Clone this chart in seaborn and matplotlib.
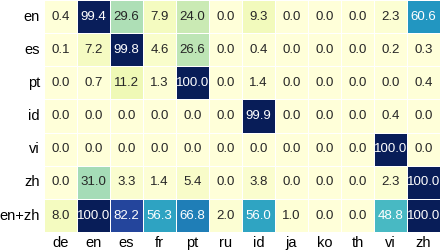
import matplotlib
matplotlib.use("Agg")
import matplotlib.pyplot as plt
import seaborn as sns
import pandas as pd
import numpy as np

rows = ["en", "es", "pt", "id", "vi", "zh", "en+zh"]
cols = ["de", "en", "es", "fr", "pt", "ru", "id", "ja", "ko", "th", "vi", "zh"]

en_row = [0.4, 99.4, 29.6, 7.9, 24.0, 0.0, 9.3, 0.0, 0.0, 0.0, 2.3, 60.6]
es_row = [0.1, 7.2, 99.8, 4.6, 26.6, 0.0, 0.4, 0.0, 0.0, 0.0, 0.2, 0.3]
pt_row = [0.0, 0.7, 11.2, 1.3, 100.0, 0.0, 1.4, 0.0, 0.0, 0.0, 0.0, 0.4]
id_row = [0.0, 0.0, 0.0, 0.0, 0.0, 0.0, 99.9, 0.0, 0.0, 0.0, 0.4, 0.0]
vi_row = [0.0, 0.0, 0.0, 0.0, 0.0, 0.0, 0.0, 0.0, 0.0, 0.0, 100.0, 0.0]
zh_row = [0.0, 31.0, 3.3, 1.4, 5.4, 0.0, 3.8, 0.0, 0.0, 0.0, 2.3, 100.0]
enzh_row = [8.0, 100.0, 82.2, 56.3, 66.8, 2.0, 56.0, 1.0, 0.0, 0.0, 48.8, 100.0]

df = pd.DataFrame([en_row, es_row, pt_row, id_row, vi_row, zh_row, enzh_row],
                  index=rows, columns=cols)

plt.rcParams['font.family'] = ['Liberation Sans', 'DejaVu Sans']

fig, ax = plt.subplots(figsize=(4.4, 2.52), dpi=100)
sns.heatmap(df, ax=ax, cmap="YlGnBu", vmin=0, vmax=100, annot=True, fmt=".1f",
            annot_kws={"size": 9.5}, linewidths=0.5, linecolor="white", cbar=False)
ax.tick_params(axis="both", length=0, labelsize=10.5, pad=3)
ax.set_yticklabels(rows, rotation=0)
ax.set_xticklabels(cols, rotation=0)
ax.set_xlabel("")
ax.set_ylabel("")
fig.subplots_adjust(left=0.1, right=1.0, top=1.0, bottom=0.079)
fig.savefig("out.png", dpi=100)
